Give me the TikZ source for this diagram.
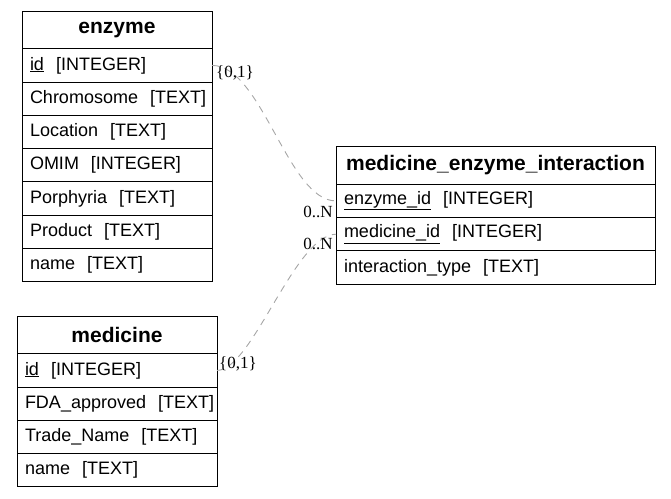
\documentclass[tikz,border=0pt]{standalone}
\usepackage{fontspec}
\usetikzlibrary{positioning}
\setmainfont{Liberation Sans}
\newfontfamily\cardfont{Liberation Serif}
\begin{document}
\begin{tikzpicture}[x=1pt, y=-1pt,
  tblhead/.style={draw, line width=1pt, outer sep=0pt, minimum height=37.5pt, inner sep=0pt, font=\fontsize{21}{24}\selectfont\bfseries},
  tblrow/.style={draw, line width=1pt, outer sep=0pt, minimum height=33.3pt, inner xsep=8pt, inner ysep=0pt, align=left, font=\fontsize{18}{21}\selectfont},
  card/.style={font=\fontsize{17}{18}\selectfont\cardfont, inner sep=0pt},
  rel/.style={dash pattern=on 7pt off 6pt, gray!70, line width=0.9pt}]
\useasboundingbox (0,0) rectangle (671,498);
% enzyme
\begin{scope}[node distance=0pt]
\node[tblhead, minimum width=190pt] (enz) at (117,30) {enzyme};
\node[tblrow, text width=174pt, below=of enz] (enzid) {\underline{id}~~[INTEGER]};
\node[tblrow, text width=174pt, below=of enzid] (enzchr) {Chromosome~~[TEXT]};
\node[tblrow, text width=174pt, below=of enzchr] (enzloc) {Location~~[TEXT]};
\node[tblrow, text width=174pt, below=of enzloc] (enzomim) {OMIM~~[INTEGER]};
\node[tblrow, text width=174pt, below=of enzomim] (enzpor) {Porphyria~~[TEXT]};
\node[tblrow, text width=174pt, below=of enzpor] (enzprod) {Product~~[TEXT]};
\node[tblrow, text width=174pt, below=of enzprod] (enzname) {name~~[TEXT]};
\end{scope}
% medicine
\begin{scope}[node distance=0pt]
\node[tblhead, minimum width=200pt] (med) at (117,335) {medicine};
\node[tblrow, text width=184pt, below=of med] (medid) {\underline{id}~~[INTEGER]};
\node[tblrow, text width=184pt, below=of medid] (medfda) {FDA\_approved~~[TEXT]};
\node[tblrow, text width=184pt, below=of medfda] (medtrade) {Trade\_Name~~[TEXT]};
\node[tblrow, text width=184pt, below=of medtrade] (medname) {name~~[TEXT]};
\end{scope}
% medicine_enzyme_interaction
\begin{scope}[node distance=0pt]
\node[tblhead, minimum width=319pt] (mei) at (495.5,165.5) {medicine\_enzyme\_interaction};
\node[tblrow, text width=303pt, below=of mei] (meienz) {\underline{enzyme\_id}~~[INTEGER]};
\node[tblrow, text width=303pt, below=of meienz] (meimed) {\underline{medicine\_id}~~[INTEGER]};
\node[tblrow, text width=303pt, below=of meimed] (meitype) {interaction\_type~~[TEXT]};
\end{scope}
% relations
\draw[rel] (enzid.east) .. controls (262,65.5) and (288,201) .. (meienz.west);
\draw[rel] (medid.east) .. controls (252,370.5) and (295,234.5) .. (meimed.west);
\node[card] (enzcard) at (235,73) {\{0,1\}};
\node[card] (meienzcard) at (318,212) {0..N};
\node[card] (medcard) at (238,364) {\{0,1\}};
\node[card] (meimedcard) at (318,244) {0..N};
\end{tikzpicture}
\end{document}
